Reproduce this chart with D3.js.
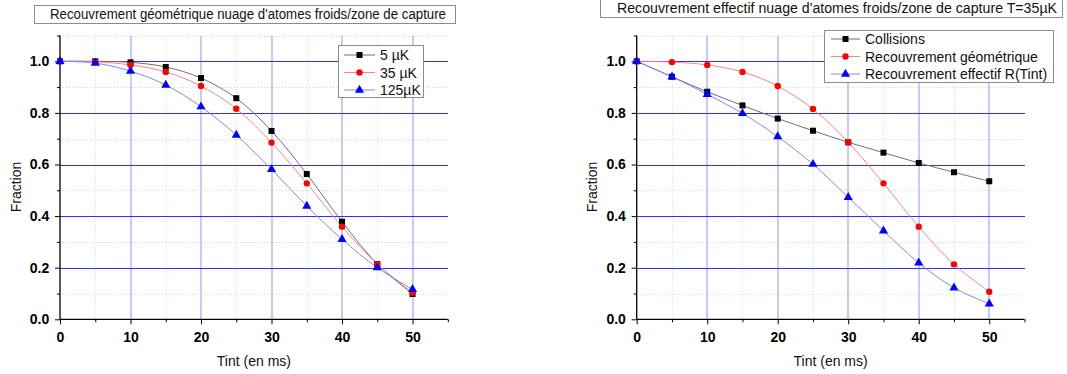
<!DOCTYPE html>
<html><head><meta charset="utf-8">
<script src="https://cdn.jsdelivr.net/npm/d3@7"></script>
<style>body{margin:0;background:#fff}svg{display:block}text{font-family:"Liberation Sans",Arial,sans-serif}</style>
</head><body>
<svg id="c" width="1067" height="374"></svg>
<script>
const tint = [0,5,10,15,20,25,30,35,40,45,50];
const xTicks = [0,10,20,30,40,50];
const yTicks = [0.0,0.2,0.4,0.6,0.8,1.0];
const yTickLabels = ["0.0","0.2","0.4","0.6","0.8","1.0"];

// Left chart
const leftTitle = "Recouvrement géométrique nuage d'atomes froids/zone de capture";
const leftNames = ["5 µK","35 µK","125µK"];
const t5uK   = [1.0,1.0,0.996,0.978,0.935,0.857,0.730,0.563,0.378,0.214,0.098];
const t35uK  = [1.0,0.998,0.986,0.959,0.904,0.816,0.685,0.527,0.359,0.214,0.103];
const t125uK = [1.0,0.993,0.962,0.908,0.824,0.714,0.581,0.439,0.310,0.200,0.116];

// Right chart
const rightTitle = "Recouvrement effectif nuage d'atomes froids/zone de capture T=35µK";
const rightNames = ["Collisions","Recouvrement géométrique","Recouvrement effectif R(Tint)"];
const collisions = [1.0,0.940,0.882,0.829,0.778,0.731,0.686,0.646,0.606,0.570,0.535];
const geometrique = [1.0,0.997,0.986,0.959,0.904,0.815,0.686,0.527,0.359,0.213,0.107];
const effectif = [1.0,0.940,0.872,0.798,0.708,0.601,0.473,0.343,0.219,0.122,0.060];

const xTitle = "Tint (en ms)";
const yTitle = "Fraction";

const svg = d3.select("#c");
const markerColors = ["#000000","#ff0000","#0000ff"];
const lineColors = ["#707070","#ff8484","#8484ff"];
const shapes = [d3.symbolSquare, d3.symbolCircle, d3.symbolTriangle];
const shapeSizes = [36, 32, 36];

function chart(cfg){
  const g = svg.append("g");
  const x = d3.scaleLinear().domain([0,55]).range([cfg.x0, cfg.x1]);
  const y = d3.scaleLinear().domain([0,1.1]).range([319.3, 35.5]);

  // title box
  g.append("rect").attr("x",cfg.tb[0]+0.5).attr("y",cfg.tb[1]+0.5).attr("width",cfg.tb[2]).attr("height",cfg.tb[3])
    .attr("fill","#fff").attr("stroke","#8c8c8c");
  g.append("text").attr("x",cfg.tx).attr("y",cfg.ty).attr("text-anchor","middle")
    .attr("font-size",14).attr("fill","#111")
    .attr("textLength",cfg.tl).attr("lengthAdjust","spacingAndGlyphs").text(cfg.title);

  // minor grid
  const minorX = d3.range(5,55,10);
  const minorY = d3.range(0.1,1.15,0.2);
  g.append("g").selectAll("line").data(minorX).join("line")
    .attr("x1",d=>Math.round(x(d))+0.5).attr("x2",d=>Math.round(x(d))+0.5).attr("y1",y(1.1)).attr("y2",y(0))
    .attr("stroke","#b8ecb8").attr("stroke-dasharray","1,2");
  g.append("g").selectAll("line").data(minorY).join("line")
    .attr("y1",d=>Math.round(y(d))+0.5).attr("y2",d=>Math.round(y(d))+0.5).attr("x1",x(0)).attr("x2",x(55))
    .attr("stroke","#b8ecb8").attr("stroke-dasharray","1,2");
  // major grid
  g.append("g").selectAll("line").data(xTicks.slice(1)).join("line")
    .attr("x1",d=>Math.round(x(d))).attr("x2",d=>Math.round(x(d))).attr("y1",y(1.1)).attr("y2",y(0))
    .attr("stroke","#b4b4f6").attr("stroke-width",1.4);
  g.append("g").selectAll("line").data(yTicks.slice(1)).join("line")
    .attr("y1",d=>Math.round(y(d))+0.5).attr("y2",d=>Math.round(y(d))+0.5).attr("x1",x(0)).attr("x2",x(55))
    .attr("stroke","#3030ff").attr("stroke-width",1).attr("shape-rendering","crispEdges");

  // axes
  const xa = g.append("g").attr("transform",`translate(0,${y(0)})`)
    .call(d3.axisBottom(x).tickValues(xTicks).tickSize(5).tickFormat(d3.format("d")));
  const xm = g.append("g").attr("transform",`translate(0,${y(0)})`)
    .call(d3.axisBottom(x).tickValues(d3.range(5,60,10)).tickSize(3).tickFormat(""));
  const ya = g.append("g").attr("transform",`translate(${x(0)},0)`)
    .call(d3.axisLeft(y).tickValues(yTicks).tickSize(5).tickFormat((d,i)=>yTickLabels[i]));
  const ym = g.append("g").attr("transform",`translate(${x(0)},0)`)
    .call(d3.axisLeft(y).tickValues(d3.range(0.1,1.15,0.2)).tickSize(3).tickFormat(""));
  [xa,xm,ya,ym].forEach(a=>{
    a.selectAll(".domain").attr("stroke","#000").attr("stroke-width",1.3);
    a.selectAll(".tick line").attr("stroke","#000").attr("stroke-width",1);
    a.selectAll("text").attr("font-family","'Liberation Sans',Arial,sans-serif")
      .attr("font-size",14).attr("font-weight","bold").attr("fill","#000");
  });
  ya.select(".domain").attr("d",`M-0,${y(1.1)}V${y(0)}`);
  xa.select(".domain").attr("d",`M${x(0)},0H${x(55)}`);
  xm.select(".domain").remove(); ym.select(".domain").remove();
  xa.selectAll("text").attr("dy","1.05em");
  ya.selectAll("text").attr("dx","-0.2em");

  g.append("text").attr("x",(x(0)+x(55))/2).attr("y",366).attr("text-anchor","middle")
    .attr("font-size",14).attr("fill","#111").text(xTitle);
  g.append("text").attr("transform",`translate(${cfg.yx},187) rotate(-90)`).attr("text-anchor","middle")
    .attr("font-size",14).attr("fill","#111").text(yTitle);

  // series
  const line = d3.line().x((d,i)=>x(tint[i])).y(d=>y(d)).curve(d3.curveCatmullRom.alpha(0.5));
  cfg.series.forEach((s,k)=>{
    g.append("path").attr("d",line(s)).attr("fill","none").attr("stroke",lineColors[k]).attr("stroke-width",1);
  });
  cfg.series.forEach((s,k)=>{
    g.append("g").selectAll("path").data(s).join("path")
      .attr("transform",(d,i)=>`translate(${x(tint[i])},${y(d)})`)
      .attr("d",d3.symbol(shapes[k],shapeSizes[k])).attr("fill",markerColors[k]);
  });

  // legend
  const L = cfg.legend;
  g.append("rect").attr("x",L.x+0.5).attr("y",L.y+0.5).attr("width",L.w).attr("height",L.h)
    .attr("fill","#fff").attr("stroke","#8c8c8c");
  cfg.names.forEach((n,k)=>{
    const ry = L.y + L.r0 + k*L.dr;
    g.append("line").attr("x1",L.l1).attr("x2",L.l2).attr("y1",ry).attr("y2",ry).attr("stroke",lineColors[k]);
    g.append("path").attr("transform",`translate(${(L.l1+L.l2)/2},${ry})`)
      .attr("d",d3.symbol(shapes[k],shapeSizes[k])).attr("fill",markerColors[k]);
    g.append("text").attr("x",L.tx).attr("y",ry+5).attr("font-size",14).attr("fill","#111").text(n);
  });
}

chart({x0:60,x1:447.8,title:leftTitle,tb:[34,5,421,18],tx:248,ty:19,tl:396,yx:21,
  series:[t5uK,t35uK,t125uK],names:leftNames,
  legend:{x:338,y:45,w:85,h:52,r0:10,dr:17.5,l1:344,l2:375,tx:380}});
chart({x0:636.7,x1:1024.5,title:rightTitle,tb:[600,-1,462,18],tx:837,ty:13,tl:440,yx:597,
  series:[collisions,geometrique,effectif],names:rightNames,
  legend:{x:824,y:30,w:229,h:52,r0:9,dr:17.5,l1:831,l2:860,tx:865}});
</script>
</body></html>
